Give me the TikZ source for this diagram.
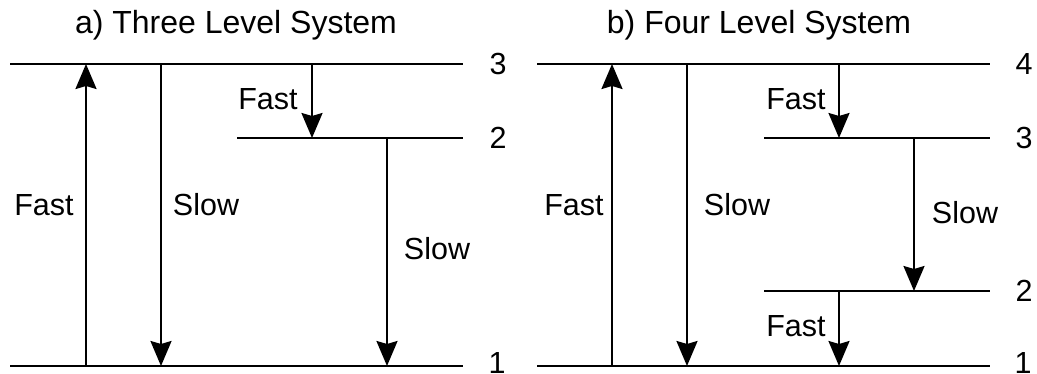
\documentclass[tikz,border=0pt]{standalone}
\usepackage{fontspec}
\setmainfont{Liberation Sans}
\usetikzlibrary{arrows.meta}
\begin{document}
\begin{tikzpicture}[x=1pt,y=-1pt,
  level/.style={line width=2.8pt},
  trans/.style={line width=2.2pt,-{Stealth[length=25pt,width=21pt,inset=3pt]}},
  lbl/.style={font=\fontsize{30.5}{34}\selectfont,inner sep=0pt},
  ttl/.style={font=\fontsize{32}{36}\selectfont,inner sep=0pt,anchor=base}]
\useasboundingbox (0,0) rectangle (1037,374);
% titles
\node[ttl] (ta) at (236,34) {a) Three Level System};
\node[ttl] (tb) at (759,34) {b) Four Level System};
% left levels
\coordinate (a3l) at (10,64);  \coordinate (a3r) at (463,64);
\coordinate (a2l) at (237,138); \coordinate (a2r) at (463,138);
\coordinate (a1l) at (10,366); \coordinate (a1r) at (463,366);
\draw[level] (a3l) -- (a3r);
\draw[level] (a2l) -- (a2r);
\draw[level] (a1l) -- (a1r);
\node[lbl] (na3) at (498,64) {3};
\node[lbl] (na2) at (498,138) {2};
\node[lbl] (na1) at (497,363) {1};
% left transitions
\coordinate (aup1) at (86,366); \coordinate (aup3) at (86,64);
\draw[trans] (aup1) -- (aup3);
\node[lbl] (fa1) at (44,205) {Fast};
\coordinate (as3) at (161,64); \coordinate (as1) at (161,366);
\draw[trans] (as3) -- (as1);
\node[lbl] (sa1) at (206,205) {Slow};
\coordinate (af3) at (312,64); \coordinate (af2) at (312,138);
\draw[trans] (af3) -- (af2);
\node[lbl] (fa2) at (268,99) {Fast};
\coordinate (as2t) at (387,138); \coordinate (as2b) at (387,366);
\draw[trans] (as2t) -- (as2b);
\node[lbl] (sa2) at (437,249) {Slow};
% right levels
\coordinate (b4l) at (537,64);  \coordinate (b4r) at (990,64);
\coordinate (b3l) at (764,138); \coordinate (b3r) at (990,138);
\coordinate (b2l) at (764,291); \coordinate (b2r) at (990,291);
\coordinate (b1l) at (537,366); \coordinate (b1r) at (990,366);
\draw[level] (b4l) -- (b4r);
\draw[level] (b3l) -- (b3r);
\draw[level] (b2l) -- (b2r);
\draw[level] (b1l) -- (b1r);
\node[lbl] (nb4) at (1024,64) {4};
\node[lbl] (nb3) at (1024,138) {3};
\node[lbl] (nb2) at (1024,291) {2};
\node[lbl] (nb1) at (1023,363) {1};
% right transitions
\coordinate (bup1) at (612,366); \coordinate (bup4) at (612,64);
\draw[trans] (bup1) -- (bup4);
\node[lbl] (fb1) at (574,205) {Fast};
\coordinate (bs4) at (687,64); \coordinate (bs1) at (687,366);
\draw[trans] (bs4) -- (bs1);
\node[lbl] (sb1) at (737,205) {Slow};
\coordinate (bf4) at (839,64); \coordinate (bf3) at (839,138);
\draw[trans] (bf4) -- (bf3);
\node[lbl] (fb2) at (796,99) {Fast};
\coordinate (bs3) at (914,138); \coordinate (bs2) at (914,291);
\draw[trans] (bs3) -- (bs2);
\node[lbl] (sb2) at (965,213) {Slow};
\coordinate (bf2) at (839,291); \coordinate (bf1) at (839,366);
\draw[trans] (bf2) -- (bf1);
\node[lbl] (fb3) at (796,326) {Fast};
\end{tikzpicture}
\end{document}
